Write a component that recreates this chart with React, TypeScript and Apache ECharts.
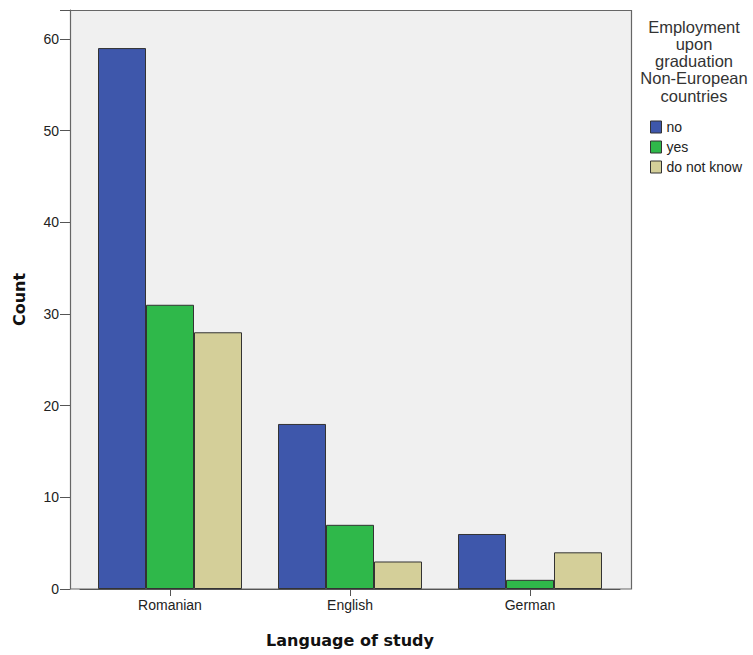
import React, { useEffect, useRef } from "react";
import * as echarts from "echarts";

const categories = ["Romanian", "English", "German"];
const seriesNames = ["no", "yes", "do not know"];
const noValues = [59, 18, 6];
const yesValues = [31, 7, 1];
const dontKnowValues = [28, 3, 4];
const yTicks = [0, 10, 20, 30, 40, 50, 60];
const colors = ["#3e57ab", "#2fb84a", "#d4cf99"];
const legendTitleLines = ["Employment", "upon", "graduation", "Non-European", "countries"];

export default function App() {
  const ref = useRef<HTMLDivElement>(null);
  useEffect(() => {
    document.body.style.margin = "0";
    const chart = echarts.init(ref.current!, null, { renderer: "svg" });
    const values = [noValues, yesValues, dontKnowValues];
    chart.setOption({
      animation: false,
      backgroundColor: "#ffffff",
      textStyle: { fontFamily: "Liberation Sans, Arial, sans-serif" },
      grid: { left: 80, right: 133, top: 10, bottom: 66 },
      graphic: [
        {
          type: "rect",
          z: 0,
          shape: { x: 70.5, y: 10.5, width: 561, height: 578.5 },
          style: { fill: "#f0f0f0", stroke: "#666", lineWidth: 1.2 },
        },
        ...legendTitleLines.map((line, i) => ({
          type: "text",
          x: 694,
          y: 35 + i * 17.3,
          style: {
            text: line,
            textAlign: "center",
            textVerticalAlign: "bottom",
            fontSize: 16.5,
            fill: "#333",
            fontFamily: "Liberation Sans, Arial, sans-serif",
          },
        })),
      ],
      legend: {
        orient: "vertical",
        left: 645,
        top: 115,
        itemWidth: 11,
        itemHeight: 12,
        itemGap: 6,
        icon: "rect",
        textStyle: { fontSize: 14, color: "#222" },
        data: seriesNames,
        itemStyle: { borderColor: "#333", borderWidth: 1 },
      },
      xAxis: {
        type: "category",
        data: categories,
        name: "Language of study",
        nameLocation: "middle",
        nameGap: 43,
        nameTextStyle: { fontFamily: "DejaVu Sans", fontWeight: "bold", fontSize: 16, color: "#111" },
        axisLine: { show: true, lineStyle: { color: "#555" } },
        axisTick: { show: true, alignWithLabel: true, length: 7, lineStyle: { color: "#555" } },
        axisLabel: { fontSize: 14, color: "#222", margin: 9 },
        splitLine: { show: false },
      },
      yAxis: {
        type: "value",
        min: 0,
        max: 63.15,
        interval: 10,
        offset: 10,
        name: "Count",
        nameLocation: "middle",
        nameGap: 43,
        nameTextStyle: { fontFamily: "DejaVu Sans", fontWeight: "bold", fontSize: 16, color: "#111" },
        axisLine: { show: true, lineStyle: { color: "#666" } },
        axisTick: { show: true, length: 10, lineStyle: { color: "#555" } },
        axisLabel: {
          fontSize: 14,
          color: "#222",
          margin: 11,
          formatter: (v: number) => (yTicks.includes(v) ? String(v) : ""),
        },
        splitLine: { show: false },
      },
      series: seriesNames.map((name, i) => ({
        name,
        type: "bar",
        data: values[i],
        barGap: "0%",
        barCategoryGap: "20%",
        itemStyle: { color: colors[i], borderColor: "#333", borderWidth: 1 },
        z: 2,
      })),
    });
    return () => chart.dispose();
  }, []);
  return <div ref={ref} style={{ position: "absolute", left: 0, top: 0, width: 753, height: 655 }} />;
}
